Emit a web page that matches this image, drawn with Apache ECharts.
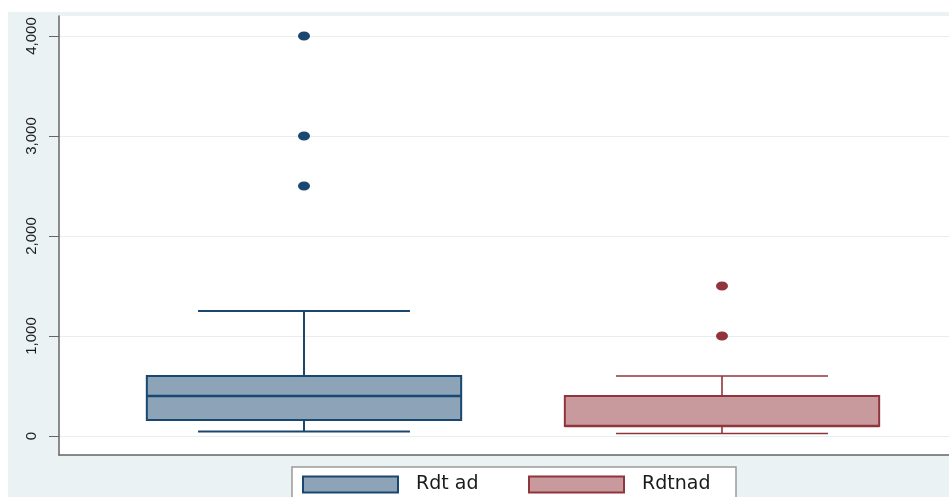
<!DOCTYPE html>
<html>
<head>
<meta charset="utf-8">
<script src="https://cdn.jsdelivr.net/npm/echarts@6/dist/echarts.min.js"></script>
<style>
  html, body { margin: 0; padding: 0; background: #ffffff; }
  #chart { width: 949px; height: 497px; }
</style>
</head>
<body>
<div id="chart"></div>
<script>
// Groups shown on the chart
const categories = ['Rdt ad', 'Rdtnad'];

// Box summaries: [lower whisker, Q1, median, Q3, upper whisker]
const rdtAdBox = [45, 160, 400, 600, 1250];
const rdtnadBox = [25, 100, 100, 400, 600];

// Points beyond the whiskers
const rdtAdOutliers = [4000, 3000, 2500];
const rdtnadOutliers = [1500, 1000];

// Value axis ticks
const yTicks = [0, 1000, 2000, 3000, 4000];

const navy = '#1a476f', navyFill = '#8da3b8';
const maroon = '#90353b', maroonFill = '#c89a9d';

function fmt(v) {
  return String(v).replace(/\B(?=(\d{3})+(?!\d))/g, ',');
}

// Draws one box with whiskers and caps using the axis scales
function boxRenderer(stroke, fill, whiskerWidth) {
  return function (params, api) {
    const x = api.value(0);
    const low = api.coord([x, api.value(1)]);
    const q1 = api.coord([x, api.value(2)]);
    const med = api.coord([x, api.value(3)]);
    const q3 = api.coord([x, api.value(4)]);
    const high = api.coord([x, api.value(5)]);
    const band = api.size([1, 0])[0];
    const bw = band * 0.752;
    const cw = band * 0.507;
    const cx = low[0];
    const ls = { stroke: stroke, lineWidth: whiskerWidth, fill: null };
    return {
      type: 'group',
      children: [
        { type: 'line', shape: { x1: cx, y1: q3[1], x2: cx, y2: high[1] }, style: ls },
        { type: 'line', shape: { x1: cx, y1: low[1], x2: cx, y2: q1[1] }, style: ls },
        { type: 'line', shape: { x1: cx - cw / 2, y1: high[1], x2: cx + cw / 2, y2: high[1] }, style: ls },
        { type: 'line', shape: { x1: cx - cw / 2, y1: low[1], x2: cx + cw / 2, y2: low[1] }, style: ls },
        { type: 'rect', shape: { x: cx - bw / 2, y: q3[1], width: bw, height: q1[1] - q3[1] },
          style: { fill: fill, stroke: stroke, lineWidth: 2 } },
        { type: 'line', shape: { x1: cx - bw / 2, y1: med[1], x2: cx + bw / 2, y2: med[1] },
          style: { stroke: stroke, lineWidth: 2.5 } }
      ]
    };
  };
}

const chart = echarts.init(document.getElementById('chart'));

const legendText = {
  fontFamily: 'DejaVu Sans',
  fontSize: 19,
  color: '#1a1a1a',
  padding: [0, 0, 0, 13]
};

chart.setOption({
  animation: false,
  backgroundColor: '#ffffff',
  graphic: [
    { type: 'rect', z: -10, silent: true,
      shape: { x: 8, y: 12, width: 941, height: 485 },
      style: { fill: '#eaf2f3' } },
    { type: 'rect', z: -5, silent: true,
      shape: { x: 292, y: 467, width: 444, height: 40 },
      style: { fill: '#ffffff', stroke: '#9a9a9a', lineWidth: 1.5 } }
  ],
  grid: [
    { left: 59, right: 0, top: 16, bottom: 42, show: true, backgroundColor: '#ffffff', borderWidth: 0 },
    { left: 59, right: 0, top: 36, bottom: 61 },
    { left: 95, right: 18, top: 36, bottom: 61 }
  ],
  xAxis: [
    { gridIndex: 0, type: 'value', min: 0, max: 1,
      axisLine: { show: true, onZero: false, lineStyle: { color: '#666666', width: 1.5 } },
      axisTick: { show: false }, axisLabel: { show: false }, splitLine: { show: false } },
    { gridIndex: 1, type: 'value', min: 0, max: 1, show: false },
    { gridIndex: 2, type: 'category', data: categories, show: false }
  ],
  yAxis: [
    { gridIndex: 0, type: 'value', min: -200, max: 4200,
      axisLine: { show: true, onZero: false, lineStyle: { color: '#666666', width: 1.5 } },
      axisTick: { show: false }, axisLabel: { show: false }, splitLine: { show: false } },
    { gridIndex: 1, type: 'value', min: yTicks[0], max: yTicks[yTicks.length - 1], interval: 1000,
      axisLine: { show: false },
      axisTick: { show: true, length: 10, lineStyle: { color: '#666666', width: 1 } },
      axisLabel: { rotate: 90, margin: 20, color: '#1c1c1c',
        fontFamily: 'Liberation Sans', fontSize: 15, formatter: fmt },
      splitLine: { show: true, lineStyle: { color: '#e6eef0', width: 1.2 } } },
    { gridIndex: 2, type: 'value', min: yTicks[0], max: yTicks[yTicks.length - 1], show: false }
  ],
  legend: [
    { left: 302, top: 475, padding: 0, itemWidth: 95, itemHeight: 16, selectedMode: false,
      data: [{ name: categories[0], icon: 'rect',
        itemStyle: { color: navyFill, borderColor: navy, borderWidth: 2 } }],
      textStyle: legendText },
    { left: 528, top: 475, padding: 0, itemWidth: 95, itemHeight: 16, selectedMode: false,
      data: [{ name: categories[1], icon: 'rect',
        itemStyle: { color: maroonFill, borderColor: maroon, borderWidth: 2 } }],
      textStyle: legendText }
  ],
  series: [
    { name: categories[0], type: 'custom', xAxisIndex: 2, yAxisIndex: 2,
      renderItem: boxRenderer(navy, navyFill, 2),
      encode: { x: 0, y: [1, 2, 3, 4, 5] },
      itemStyle: { color: navyFill },
      data: [[0].concat(rdtAdBox)] },
    { name: categories[1], type: 'custom', xAxisIndex: 2, yAxisIndex: 2,
      renderItem: boxRenderer(maroon, maroonFill, 1.6),
      encode: { x: 0, y: [1, 2, 3, 4, 5] },
      itemStyle: { color: maroonFill },
      data: [[1].concat(rdtnadBox)] },
    { name: categories[0], type: 'scatter', xAxisIndex: 2, yAxisIndex: 2,
      symbol: 'circle', symbolSize: [12, 9],
      itemStyle: { color: navy, opacity: 1 },
      data: rdtAdOutliers.map(v => [0, v]) },
    { name: categories[1], type: 'scatter', xAxisIndex: 2, yAxisIndex: 2,
      symbol: 'circle', symbolSize: [12, 9],
      itemStyle: { color: maroon, opacity: 1 },
      data: rdtnadOutliers.map(v => [1, v]) }
  ]
});
</script>
</body>
</html>
